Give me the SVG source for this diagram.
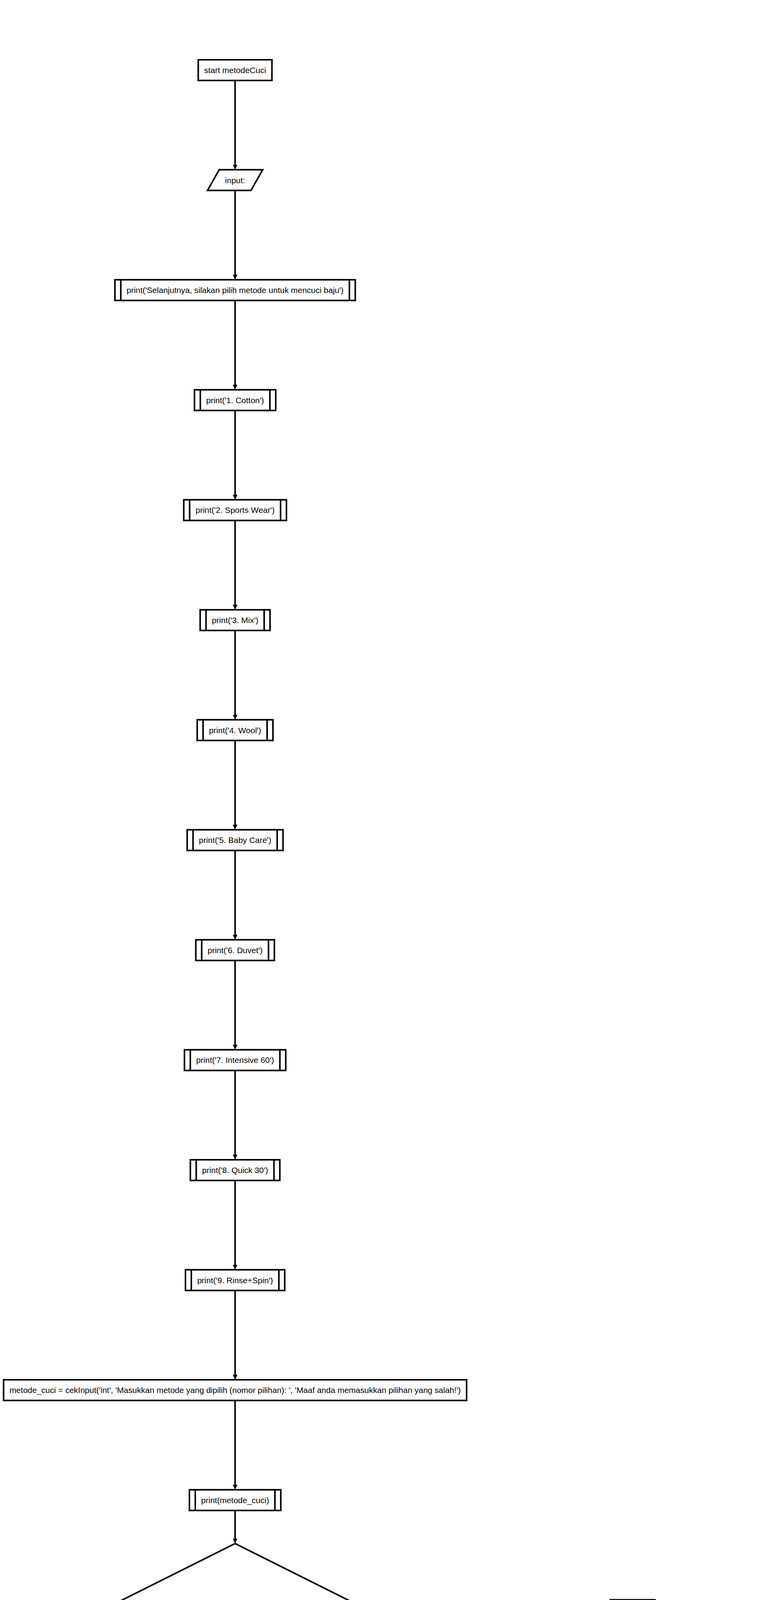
<svg xmlns="http://www.w3.org/2000/svg" width="2005" height="6550" viewBox="0 0 2005 6550">
<style>
.s{fill:#fff;stroke:#000;stroke-width:4}
.i{stroke:#000;stroke-width:4}
.t{font-family:"Liberation Sans",Arial,Helvetica,sans-serif;font-size:21px;fill:#000;text-anchor:middle}
.l{font-family:"Liberation Sans",Arial,Helvetica,sans-serif;font-size:21px;fill:#000}
.c{fill:none;stroke:#000;stroke-width:4;marker-end:url(#a)}
</style>
<defs>
<marker id="a" markerUnits="userSpaceOnUse" viewBox="0 0 13 12" markerWidth="13" markerHeight="12" refX="5" refY="6" orient="auto">
<path d="M0,0 L13,6 L0,12 z" fill="#000"/>
</marker>
</defs>
<rect width="2005" height="6550" fill="#fff"/>
<g id="connectors">
<path class="c" d="M602,206 V426.6"/>
<path class="c" d="M602,487.6 V708.2"/>
<path class="c" d="M602,769.2 V989.8"/>
<path class="c" d="M602,1050.8 V1271.4"/>
<path class="c" d="M602,1332.4 V1553"/>
<path class="c" d="M602,1614 V1834.6"/>
<path class="c" d="M602,1895.6 V2116.2"/>
<path class="c" d="M602,2177.2 V2397.8"/>
<path class="c" d="M602,2458.8 V2679.4"/>
<path class="c" d="M602,2740.4 V2961"/>
<path class="c" d="M602,3022 V3242.6"/>
<path class="c" d="M602,3303.6 V3524.2"/>
<path class="c" d="M602,3585.2 V3805.8"/>
<path class="c" d="M602,3866.8 V3943.5"/>
<path class="c" d="M602,4292.5 V4513"/>
<path class="c" d="M943,4122 H1554.6"/>
<path class="c" d="M602,4574 V4794.6"/>
<path class="c" d="M602,4855.6 V5076.2"/>
<path class="c" d="M602,5137.2 V5357.8"/>
<path class="c" d="M602,5418.8 V5639.4"/>
<path class="c" d="M602,5700.4 V5921"/>
<path class="c" d="M602,5982 V6202.6"/>
<path class="c" d="M602,6263.6 V6484.2"/>
<path class="c" d="M1620,4148.5 V4369.1"/>
<path class="c" d="M1620,4430.1 V4650.7"/>
<path class="c" d="M1620,4711.7 V4932.3"/>
<path class="c" d="M1620,4993.3 V5213.9"/>
<text class="l" x="609" y="4313">yes</text>
<text class="l" x="951" y="4114">no</text>
</g>
<g id="start">
<rect class="s" x="507.65" y="153" width="188.7" height="53"/>
<text class="t" x="602" y="187">start metodeCuci</text>
</g>
<g id="input">
<polygon class="s" points="561.3,434.6 672.7,434.6 642.7,487.6 531.3,487.6"/>
<text class="t" x="602" y="468.6">input:</text>
</g>
<g id="print_selanjutnya">
<rect class="s" x="294.3" y="716.2" width="615.4" height="53"/>
<line class="i" x1="309.3" y1="716.2" x2="309.3" y2="769.2"/><line class="i" x1="894.7" y1="716.2" x2="894.7" y2="769.2"/>
<text class="t" x="602" y="750.2">print('Selanjutnya, silakan pilih metode untuk mencuci baju')</text>
</g>
<g id="print_1">
<rect class="s" x="497.95" y="997.8" width="208.1" height="53"/>
<line class="i" x1="512.95" y1="997.8" x2="512.95" y2="1050.8"/><line class="i" x1="691.05" y1="997.8" x2="691.05" y2="1050.8"/>
<text class="t" x="602" y="1031.8">print('1. Cotton')</text>
</g>
<g id="print_2">
<rect class="s" x="470.55" y="1279.4" width="262.9" height="53"/>
<line class="i" x1="485.55" y1="1279.4" x2="485.55" y2="1332.4"/><line class="i" x1="718.45" y1="1279.4" x2="718.45" y2="1332.4"/>
<text class="t" x="602" y="1313.4">print('2. Sports Wear')</text>
</g>
<g id="print_3">
<rect class="s" x="512.55" y="1561" width="178.9" height="53"/>
<line class="i" x1="527.55" y1="1561" x2="527.55" y2="1614"/><line class="i" x1="676.45" y1="1561" x2="676.45" y2="1614"/>
<text class="t" x="602" y="1595">print('3. Mix')</text>
</g>
<g id="print_4">
<rect class="s" x="505" y="1842.6" width="194" height="53"/>
<line class="i" x1="520" y1="1842.6" x2="520" y2="1895.6"/><line class="i" x1="684" y1="1842.6" x2="684" y2="1895.6"/>
<text class="t" x="602" y="1876.6">print('4. Wool')</text>
</g>
<g id="print_5">
<rect class="s" x="479.3" y="2124.2" width="245.4" height="53"/>
<line class="i" x1="494.3" y1="2124.2" x2="494.3" y2="2177.2"/><line class="i" x1="709.7" y1="2124.2" x2="709.7" y2="2177.2"/>
<text class="t" x="602" y="2158.2">print('5. Baby Care')</text>
</g>
<g id="print_6">
<rect class="s" x="501.45" y="2405.8" width="201.1" height="53"/>
<line class="i" x1="516.45" y1="2405.8" x2="516.45" y2="2458.8"/><line class="i" x1="687.55" y1="2405.8" x2="687.55" y2="2458.8"/>
<text class="t" x="602" y="2439.8">print('6. Duvet')</text>
</g>
<g id="print_7">
<rect class="s" x="472.3" y="2687.4" width="259.4" height="53"/>
<line class="i" x1="487.3" y1="2687.4" x2="487.3" y2="2740.4"/><line class="i" x1="716.7" y1="2687.4" x2="716.7" y2="2740.4"/>
<text class="t" x="602" y="2721.4">print('7. Intensive 60')</text>
</g>
<g id="print_8">
<rect class="s" x="487.45" y="2969" width="229.1" height="53"/>
<line class="i" x1="502.45" y1="2969" x2="502.45" y2="3022"/><line class="i" x1="701.55" y1="2969" x2="701.55" y2="3022"/>
<text class="t" x="602" y="3003">print('8. Quick 30')</text>
</g>
<g id="print_9">
<rect class="s" x="474.9" y="3250.6" width="254.2" height="53"/>
<line class="i" x1="489.9" y1="3250.6" x2="489.9" y2="3303.6"/><line class="i" x1="714.1" y1="3250.6" x2="714.1" y2="3303.6"/>
<text class="t" x="602" y="3284.6">print('9. Rinse+Spin')</text>
</g>
<g id="cekinput">
<rect class="s" x="9.2" y="3532.2" width="1185.6" height="53"/>
<text class="t" x="602" y="3566.2">metode_cuci = cekInput('int', 'Masukkan metode yang dipilih (nomor pilihan): ', 'Maaf anda memasukkan pilihan yang salah!')</text>
</g>
<g id="print_metode_cuci">
<rect class="s" x="485.05" y="3813.8" width="233.9" height="53"/>
<line class="i" x1="500.05" y1="3813.8" x2="500.05" y2="3866.8"/><line class="i" x1="703.95" y1="3813.8" x2="703.95" y2="3866.8"/>
<text class="t" x="602" y="3847.8">print(metode_cuci)</text>
</g>
<g id="condition">
<polygon class="s" points="602,3951.5 943,4122 602,4292.5 261,4122"/>
<text class="l" x="439" y="4129.5">if ((0 &lt; metode_cuci) or (10 &gt; metode_cuci))</text>
</g>
<g id="print_blank_yes">
<rect class="s" x="544.6" y="4521" width="114.8" height="53"/>
<line class="i" x1="559.6" y1="4521" x2="559.6" y2="4574"/><line class="i" x1="644.4" y1="4521" x2="644.4" y2="4574"/>
<text class="t" x="602" y="4555">print()</text>
</g>
<g id="print_nama">
<rect class="s" x="197.5" y="4802.6" width="809" height="53"/>
<line class="i" x1="212.5" y1="4802.6" x2="212.5" y2="4855.6"/><line class="i" x1="991.5" y1="4802.6" x2="991.5" y2="4855.6"/>
<text class="t" x="602" y="4836.6">print('Metode yang dipilih adalah:', data_metode_cuci[(metode_cuci - 1)]['nama'])</text>
</g>
<g id="print_waktu">
<rect class="s" x="213.95" y="5084.2" width="776.1" height="53"/>
<line class="i" x1="228.95" y1="5084.2" x2="228.95" y2="5137.2"/><line class="i" x1="975.05" y1="5084.2" x2="975.05" y2="5137.2"/>
<text class="t" x="602" y="5118.2">print('Waktu mencuci:', data_metode_cuci[(metode_cuci - 1)]['waktu'], 'menit')</text>
</g>
<g id="print_putaran">
<rect class="s" x="143.9" y="5365.8" width="916.2" height="53"/>
<line class="i" x1="158.9" y1="5365.8" x2="158.9" y2="5418.8"/><line class="i" x1="1045.1" y1="5365.8" x2="1045.1" y2="5418.8"/>
<text class="t" x="602" y="5399.8">print('Putaran mesin dalam mencuci:', data_metode_cuci[(metode_cuci - 1)]['putaran'], 'rpm')</text>
</g>
<g id="print_suhu">
<rect class="s" x="174.25" y="5647.4" width="855.5" height="53"/>
<line class="i" x1="189.25" y1="5647.4" x2="189.25" y2="5700.4"/><line class="i" x1="1014.75" y1="5647.4" x2="1014.75" y2="5700.4"/>
<text class="t" x="602" y="5681.4">print('Suhu air cucian:', data_metode_cuci[(metode_cuci - 1)]['suhu'], 'derajat Celcius')</text>
</g>
<g id="print_blank_end">
<rect class="s" x="544.6" y="5929" width="114.8" height="53"/>
<line class="i" x1="559.6" y1="5929" x2="559.6" y2="5982"/><line class="i" x1="644.4" y1="5929" x2="644.4" y2="5982"/>
<text class="t" x="602" y="5963">print()</text>
</g>
<g id="output">
<polygon class="s" points="492.45,6210.6 741.55,6210.6 711.55,6263.6 462.45,6263.6"/>
<text class="t" x="602" y="6244.6">output: metode_cuci</text>
</g>
<g id="end_return">
<rect class="s" x="499.45" y="6492.2" width="205.1" height="53"/>
<text class="t" x="602" y="6526.2">end function return</text>
</g>
<g id="print_blank_no">
<rect class="s" x="1562.6" y="4095.5" width="114.8" height="53"/>
<line class="i" x1="1577.6" y1="4095.5" x2="1577.6" y2="4148.5"/><line class="i" x1="1662.4" y1="4095.5" x2="1662.4" y2="4148.5"/>
<text class="t" x="1620" y="4129.5">print()</text>
</g>
<g id="print_salah">
<rect class="s" x="1346.15" y="4377.1" width="547.7" height="53"/>
<line class="i" x1="1361.15" y1="4377.1" x2="1361.15" y2="4430.1"/><line class="i" x1="1878.85" y1="4377.1" x2="1878.85" y2="4430.1"/>
<text class="t" x="1620" y="4411.1">print('Anda memasukkan nomor pilihan yang salah!')</text>
</g>
<g id="print_separator">
<rect class="s" x="1239.7" y="4658.7" width="760.6" height="53"/>
<line class="i" x1="1254.7" y1="4658.7" x2="1254.7" y2="4711.7"/><line class="i" x1="1985.3" y1="4658.7" x2="1985.3" y2="4711.7"/>
<text class="t" x="1620" y="4692.7">print('====================================================')</text>
</g>
<g id="call_metodeCuci">
<rect class="s" x="1527" y="4940.3" width="186" height="53"/>
<line class="i" x1="1542" y1="4940.3" x2="1542" y2="4993.3"/><line class="i" x1="1698" y1="4940.3" x2="1698" y2="4993.3"/>
<text class="t" x="1620" y="4974.3">metodeCuci()</text>
</g>
<g id="end_metodeCuci">
<rect class="s" x="1528.55" y="5221.9" width="182.9" height="53"/>
<text class="t" x="1620" y="5255.9">end metodeCuci</text>
</g>
</svg>
